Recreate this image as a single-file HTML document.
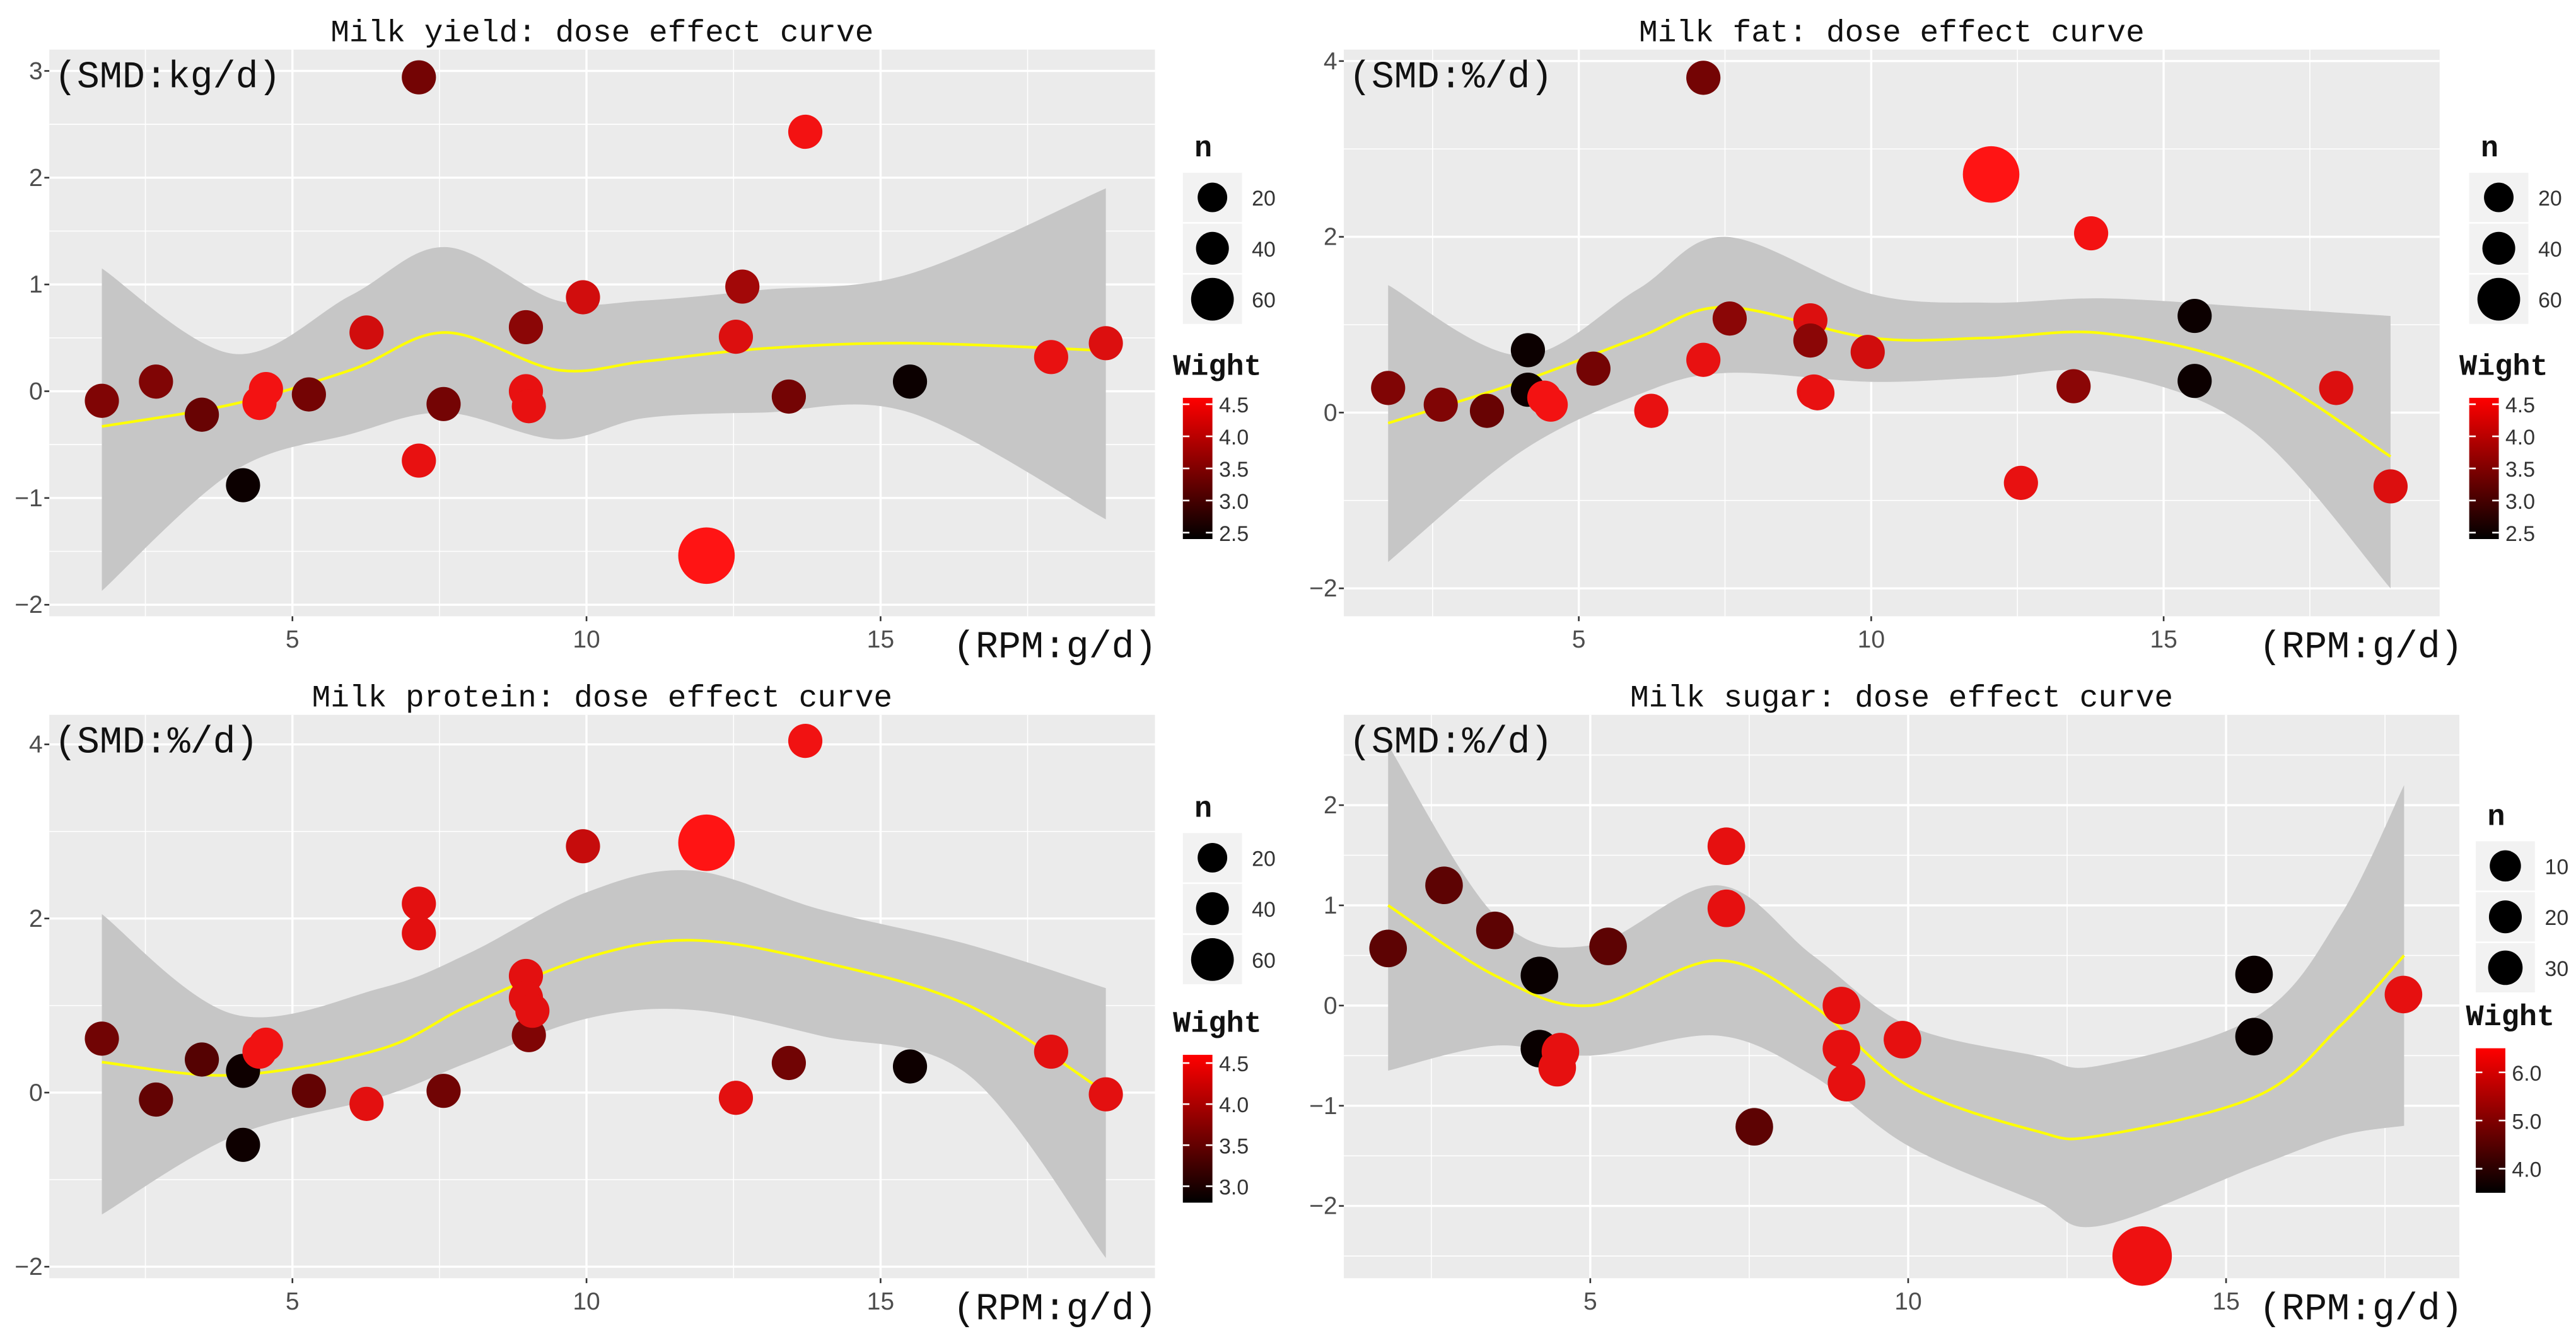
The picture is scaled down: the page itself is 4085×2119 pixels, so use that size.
<!DOCTYPE html>
<html><head><meta charset="utf-8">
<style>
html,body{margin:0;padding:0;background:#fff;}
svg{display:block;}
.tk{font-family:"Liberation Sans",sans-serif;font-size:15px;fill:#4d4d4d;}
.ttl{font-family:"Liberation Mono",monospace;font-size:19px;fill:#111;}
.lab{font-family:"Liberation Mono",monospace;font-size:23px;fill:#111;}
.lg{font-family:"Liberation Mono",monospace;font-size:18px;fill:#111;font-weight:bold;}
.lgt{font-family:"Liberation Sans",sans-serif;font-size:13px;fill:#333;}
</style></head>
<body>
<svg id="root" width="4085" height="2119" viewBox="0 0 1568 813" xmlns="http://www.w3.org/2000/svg"></svg>
<script>
// ---------- Panel 1: Milk yield ----------
const p1X=[1.76,2.68,3.46,4.16,4.44,4.55,5.28,6.26,7.15,7.15,7.57,8.97,8.97,9.02,9.94,12.04,12.54,12.65,13.44,13.72,15.5,17.9,18.83];
const p1Y=[-0.09,0.09,-0.22,-0.88,-0.11,0.02,-0.03,0.55,2.94,-0.65,-0.12,0.6,0.0,-0.14,0.88,-1.54,0.51,0.98,-0.05,2.43,0.09,0.32,0.45];
const p1W=[3.5,3.5,3.3,2.5,4.5,4.5,3.4,4.2,3.4,4.4,3.4,3.6,4.4,4.4,4.2,4.6,4.3,3.8,3.4,4.5,2.5,4.4,4.3];
const p1N=[20,20,20,20,20,20,20,20,20,20,20,20,20,20,20,60,20,20,20,20,20,20,20];
const p1CX=[1.76,4,6,7.6,9.5,11,13,15.5,18.83];
const p1C=[-0.33,-0.12,0.2,0.55,0.2,0.28,0.4,0.45,0.38];
const p1U=[1.15,0.35,0.9,1.35,0.85,0.85,0.95,1.1,1.9];
const p1L=[-1.87,-0.75,-0.4,-0.2,-0.45,-0.25,-0.2,-0.2,-1.2];
// ---------- Panel 2: Milk fat ----------
const p2X=[1.74,2.64,3.43,4.13,4.13,4.41,4.52,5.25,6.24,7.13,7.13,7.58,8.96,8.96,9.02,9.08,9.94,12.05,12.56,13.46,13.76,15.53,15.53,17.95,18.88];
const p2Y=[0.28,0.09,0.02,0.71,0.26,0.17,0.09,0.5,0.02,3.81,0.6,1.07,1.05,0.82,0.24,0.22,0.69,2.71,-0.8,0.3,2.04,1.1,0.36,0.28,-0.84];
const p2W=[3.5,3.5,3.3,2.5,2.5,4.5,4.5,3.4,4.4,3.4,4.4,3.6,4.3,3.6,4.4,4.4,4.2,4.6,4.4,3.6,4.5,2.5,2.5,4.3,4.3];
const p2N=[20,20,20,20,20,20,20,20,20,20,20,20,20,20,20,20,20,60,20,20,20,20,20,20,20];
const p2CX=[1.74,4,6,7.5,10,12,14,16.5,18.88];
const p2C=[-0.12,0.35,0.85,1.2,0.85,0.85,0.9,0.5,-0.5];
const p2U=[1.45,0.65,1.4,2.0,1.35,1.25,1.3,1.2,1.1];
const p2L=[-1.7,-0.45,0.2,0.45,0.35,0.4,0.45,-0.2,-2.0];
// ---------- Panel 3: Milk protein ----------
const p3X=[1.76,2.68,3.46,4.16,4.16,4.44,4.55,5.28,6.26,7.15,7.15,7.57,8.97,8.97,9.02,9.08,9.94,12.04,12.54,13.44,13.72,15.5,17.9,18.83];
const p3Y=[0.62,-0.08,0.38,0.25,-0.6,0.47,0.55,0.02,-0.13,2.17,1.83,0.02,1.34,1.09,0.66,0.94,2.83,2.87,-0.06,0.34,4.04,0.3,0.47,-0.02];
const p3W=[3.6,3.5,3.4,2.9,2.9,4.5,4.5,3.5,4.4,4.4,4.4,3.6,4.4,4.4,3.7,4.4,4.2,4.6,4.4,3.6,4.5,2.9,4.4,4.4];
const p3N=[20,20,20,20,20,20,20,20,20,20,20,20,20,20,20,20,20,60,20,20,20,20,20,20];
const p3CX=[1.76,4,6.5,8,10,11.8,14,16.5,18.83];
const p3C=[0.35,0.2,0.5,1.0,1.55,1.75,1.5,1.0,0.0];
const p3U=[2.05,0.9,1.2,1.6,2.3,2.55,2.1,1.7,1.2];
const p3L=[-1.4,-0.5,-0.05,0.35,0.85,0.95,0.65,0.2,-1.9];
// ---------- Panel 4: Milk sugar ----------
const p4X=[1.82,2.7,3.5,4.2,4.2,4.53,4.48,5.28,7.14,7.14,7.58,8.95,8.95,9.03,9.91,13.68,15.44,15.44,17.79];
const p4Y=[0.57,1.2,0.75,0.3,-0.43,-0.46,-0.62,0.59,1.59,0.97,-1.21,0.0,-0.43,-0.77,-0.34,-2.5,0.31,-0.31,0.11];
const p4W=[4.6,4.6,4.6,3.6,3.6,6.2,6.2,4.6,6.2,6.2,4.6,6.2,6.2,6.2,6.2,6.3,3.6,3.6,6.2];
const p4N=[12,12,12,12,12,12,12,12,12,12,12,12,12,12,12,30,12,12,12];
const p4CX=[1.82,3.5,5,7,8.5,10,12,13,15.5,16.8,17.8];
const p4C=[1.0,0.3,0.0,0.45,0.0,-0.8,-1.25,-1.3,-0.9,-0.2,0.5];
const p4U=[2.6,0.9,0.6,1.2,0.5,-0.2,-0.5,-0.6,-0.1,0.9,2.2];
const p4L=[-0.65,-0.4,-0.5,-0.3,-0.7,-1.4,-1.95,-2.2,-1.6,-1.3,-1.2];

const NS="http://www.w3.org/2000/svg";
const root=document.getElementById('root');
function mk(tag,attrs,parent){const e=document.createElementNS(NS,tag);for(const k in attrs)e.setAttribute(k,attrs[k]);(parent||root).appendChild(e);return e;}
function smooth(pts){let d='M'+pts[0][0]+','+pts[0][1];for(let i=0;i<pts.length-1;i++){const p0=pts[i-1]||pts[i],p1=pts[i],p2=pts[i+1],p3=pts[i+2]||p2;const c1=[p1[0]+(p2[0]-p0[0])/6,p1[1]+(p2[1]-p0[1])/6],c2=[p2[0]-(p3[0]-p1[0])/6,p2[1]-(p3[1]-p1[1])/6];d+=' C'+c1+' '+c2+' '+p2;}return d;}
function col(w,wmin,wmax){let t=(w-wmin)/(wmax-wmin);t=Math.max(0,Math.min(1,t));return 'rgb('+Math.round(255*t)+','+Math.round(20*t*t)+','+Math.round(20*t*t)+')';}

function panel(cfg){
  const g=mk('g',{});
  
  
  const sx=v=>cfg.xa[0]+(v-cfg.xa[1])*cfg.xa[2];
  const sy=v=>cfg.ya[0]-(v-cfg.ya[1])*cfg.ya[2];
  const bg=mk('rect',{x:cfg.L,y:cfg.T,width:cfg.R-cfg.L,height:cfg.B-cfg.T,fill:'#ebebeb'},g);
  
  
  for(let v=0;v<=20;v+=2.5){const x=sx(v);if(x<cfg.L||x>cfg.R)continue;mk('line',{x1:x,x2:x,y1:cfg.T,y2:cfg.B,stroke:'#fff','stroke-width':(v%5===0)?1.3:0.6},g);}
  for(let v=-4;v<=5;v+=cfg.ystep/2){const y=sy(v);if(y<cfg.T||y>cfg.B)continue;const major=Math.abs(v/cfg.ystep-Math.round(v/cfg.ystep))<1e-6;mk('line',{x1:cfg.L,x2:cfg.R,y1:y,y2:y,stroke:'#fff','stroke-width':major?1.3:0.6},g);
    if(major){const t=mk('text',{x:cfg.L-4,y:y+5,'text-anchor':'end',class:'tk'},g);t.textContent=(v<0?'\u2212':'')+Math.abs(v);
      mk('line',{x1:cfg.L-3,x2:cfg.L,y1:y,y2:y,stroke:'#333'},g);}}
  for(let v=5;v<=15;v+=5){const x=sx(v);const t=mk('text',{x:x,y:cfg.B+19,'text-anchor':'middle',class:'tk'},g);t.textContent=v;mk('line',{x1:x,x2:x,y1:cfg.B,y2:cfg.B+3,stroke:'#333'},g);}
  const up=cfg.cx.map((v,i)=>[sx(v),sy(cfg.u[i])]);
  const lo=cfg.cx.map((v,i)=>[sx(v),sy(cfg.l[i])]).reverse();
  const d=smooth(up)+' L'+lo[0]+' '+smooth(lo).slice(1)+' Z';
  const band=mk('path',{d:d,fill:'#c6c6c6'},g);
  
  
  const cv=mk('path',{d:smooth(cfg.cx.map((v,i)=>[sx(v),sy(cfg.c[i])])),fill:'none',stroke:'#ffff00','stroke-width':1.6},g);
  
  
  cfg.px.forEach((v,i)=>{
    const c=mk('circle',{cx:sx(v),cy:sy(cfg.py[i]),r:cfg.rf(cfg.n[i]),fill:col(cfg.w[i],cfg.wmin,cfg.wmax)},g);
    
    
  });
  const tt=mk('text',{x:(cfg.L+cfg.R)/2,y:cfg.T-5,'text-anchor':'middle',class:'ttl'},g);tt.textContent=cfg.title;
  
  const yl=mk('text',{x:cfg.L+3,y:cfg.T+23,class:'lab'},g);yl.textContent=cfg.ylab;
  
  const xl=mk('text',{x:cfg.xlx,y:cfg.B+25,class:'lab'},g);xl.textContent='(RPM:g/d)';
  
  const lx=cfg.lx,ly=cfg.ly;
  const nt=mk('text',{x:lx+7,y:ly,class:'lg'},g);nt.textContent='n';
  
  cfg.ln.forEach((nv,i)=>{const yy=ly+25+i*31;
    mk('rect',{x:lx,y:yy-15,width:36,height:30,fill:'#f2f2f2'},g);
    const c=mk('circle',{cx:lx+18,cy:yy,r:cfg.lr[i],fill:'#000'},g);
    
    const t=mk('text',{x:lx+42,y:yy+5,class:'lgt'},g);t.textContent=nv;});
  const wt=mk('text',{x:lx-6,y:cfg.wy,class:'lg'},g);wt.textContent='Wight';
  
  const gid='gr'+cfg.name;
  const defs=mk('defs',{},g);const lg=mk('linearGradient',{id:gid,x1:0,y1:1,x2:0,y2:0},defs);
  mk('stop',{offset:0,'stop-color':'#000'},lg);mk('stop',{offset:1,'stop-color':'#ff0000'},lg);
  const cb=mk('rect',{x:lx,y:cfg.wy+14,width:18,height:cfg.wh,fill:'url(#'+gid+')'},g);
  
  cfg.wl.forEach((wv,i)=>{const yy=cfg.wy+14+cfg.wh*(1-(wv-cfg.wmin)/(cfg.wmax-cfg.wmin));
    const t=mk('text',{x:lx+22,y:yy+5,class:'lgt'},g);t.textContent=wv.toFixed(1);
    mk('line',{x1:lx,x2:lx+4,y1:yy,y2:yy,stroke:'#fff'},g);mk('line',{x1:lx+14,x2:lx+18,y1:yy,y2:yy,stroke:'#fff'},g);});
}
const rf=n=>7+n*0.17;
panel({name:'milk-yield-panel',title:'Milk yield: dose effect curve',ylab:'(SMD:kg/d)',L:30,R:703,T:30,B:375,xa:[178,5,35.8],ya:[238,0,65],ystep:1,
  px:p1X,py:p1Y,w:p1W,n:p1N,cx:p1CX,c:p1C,u:p1U,l:p1L,wmin:2.4,wmax:4.6,rf:rf,xlx:580,lx:720,ly:95,ln:[20,40,60],lr:[9,10,13],wy:228,wh:86,wl:[2.5,3.0,3.5,4.0,4.5]});
panel({name:'milk-fat-panel',title:'Milk fat: dose effect curve',ylab:'(SMD:%/d)',L:818,R:1485,T:30,B:375,xa:[961,5,35.6],ya:[251,0,53.5],ystep:2,
  px:p2X,py:p2Y,w:p2W,n:p2N,cx:p2CX,c:p2C,u:p2U,l:p2L,wmin:2.4,wmax:4.6,rf:rf,xlx:1375,lx:1503,ly:95,ln:[20,40,60],lr:[9,10,13],wy:228,wh:86,wl:[2.5,3.0,3.5,4.0,4.5]});
panel({name:'milk-protein-panel',title:'Milk protein: dose effect curve',ylab:'(SMD:%/d)',L:30,R:703,T:435,B:778,xa:[178,5,35.8],ya:[665,0,53],ystep:2,
  px:p3X,py:p3Y,w:p3W,n:p3N,cx:p3CX,c:p3C,u:p3U,l:p3L,wmin:2.8,wmax:4.6,rf:rf,xlx:580,lx:720,ly:497,ln:[20,40,60],lr:[9,10,13],wy:628,wh:90,wl:[3.0,3.5,4.0,4.5]});
panel({name:'milk-sugar-panel',title:'Milk sugar: dose effect curve',ylab:'(SMD:%/d)',L:818,R:1497,T:435,B:778,xa:[968,5,38.7],ya:[612,0,61],ystep:1,
  px:p4X,py:p4Y,w:p4W,n:p4N,cx:p4CX,c:p4C,u:p4U,l:p4L,wmin:3.5,wmax:6.5,rf:n=>7+n*0.37,xlx:1375,lx:1507,ly:502,ln:[10,20,30],lr:[9.5,10,10.5],wy:624,wh:88,wl:[4.0,5.0,6.0]});
</script>
</body></html>
